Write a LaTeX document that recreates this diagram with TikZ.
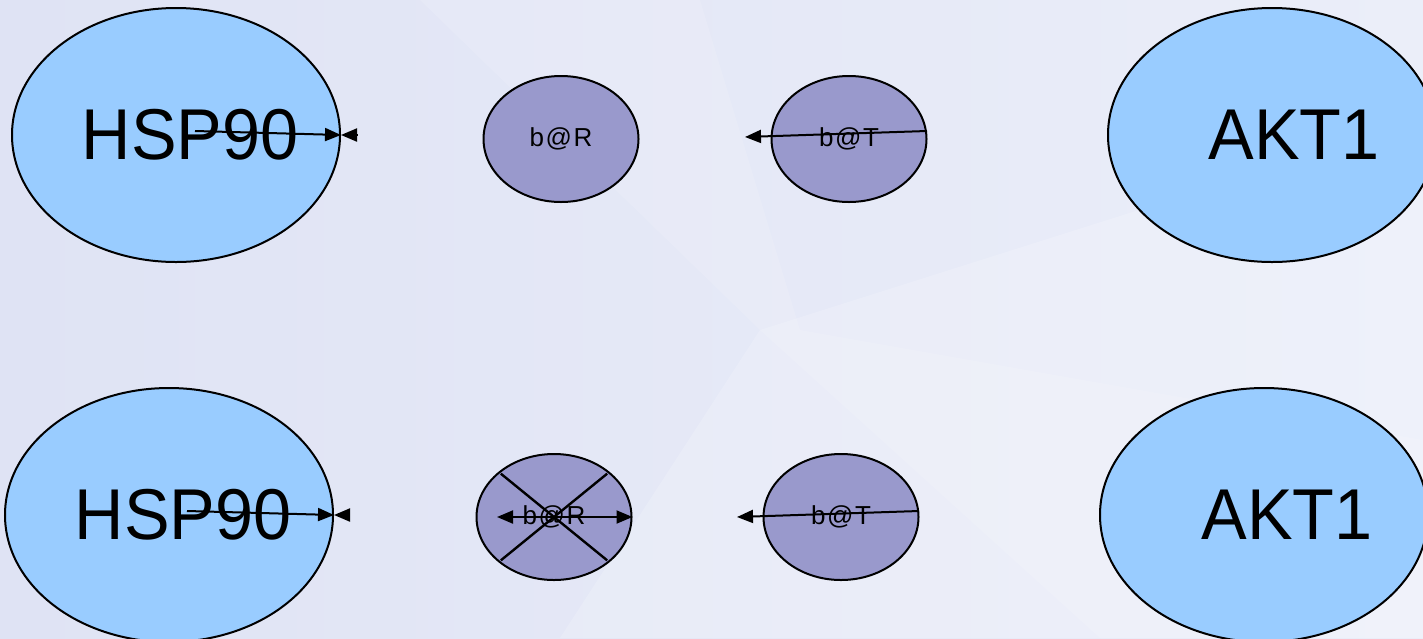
\documentclass[tikz,border=0pt]{standalone}
\usepackage{fontspec}
\setmainfont{Liberation Sans}
\usetikzlibrary{shapes.geometric,arrows.meta}
\definecolor{bgA}{HTML}{DFE3F4}
\definecolor{bgB}{HTML}{EBEEF9}
\definecolor{bigfill}{HTML}{99CCFF}
\definecolor{smallfill}{HTML}{9999CC}
\tikzset{
  bigell/.style={ellipse, draw=black, line width=2pt, fill=bigfill, minimum width=328pt, minimum height=254pt, inner sep=0pt},
  smallell/.style={ellipse, draw=black, line width=2pt, fill=smallfill, minimum width=155pt, minimum height=126pt, inner sep=0pt},
  bigtext/.style={font=\fontsize{72}{72}\selectfont},
  smalltext/.style={font=\fontsize{26}{26}\selectfont\addfontfeatures{LetterSpace=6}},
  arr/.style={line width=2pt, -{Triangle[length=16pt,width=13pt]}},
  darr/.style={line width=2pt, {Triangle[length=16pt,width=13pt]}-{Triangle[length=16pt,width=13pt]}},
  crossline/.style={line width=2.4pt, shorten >=3pt, shorten <=3pt}
}
\begin{document}
\begin{tikzpicture}[x=1pt,y=-1pt]
\useasboundingbox (0,0) rectangle (1423,638);
\shade[left color=bgA, right color=bgB] (0,0) rectangle (1423,638);
\fill[white, opacity=0.18] (560,638) -- (760,330) -- (1423,120) -- (1423,638) -- cycle;
\fill[white, opacity=0.12] (420,0) -- (700,0) -- (800,330) -- (1423,440) -- (1423,638) -- (1100,638) -- (760,330) -- cycle;

% top row
\node[bigell, label={[bigtext, xshift=14pt, xscale=0.95]center:HSP90}] (hsp1) at (176,135) {};
\node[smallell, smalltext] (br1) at (561,139) {b@R};
\node[smallell, smalltext] (bt1) at (849,139) {b@T};
\node[bigell, label={[bigtext, xshift=22pt, xscale=0.95]center:AKT1}] (akt1) at (1272,135) {};

\coordinate (h1s) at (195,131);
\coordinate (h1b) at (357,135);
\coordinate (t1s) at (927,131);
\coordinate (t1e) at (745,137);
\draw[arr] (h1s) -- (hsp1.east);
\draw[arr] (h1b) -- (hsp1.east);
\draw[arr] (t1s) -- (t1e);

% bottom row
\node[bigell, label={[bigtext, xshift=14pt, xscale=0.95]center:HSP90}] (hsp2) at (169,515) {};
\node[smallell, smalltext] (br2) at (554,517) {b@R};
\node[smallell, smalltext] (bt2) at (841,517) {b@T};
\node[bigell, label={[bigtext, xshift=23pt, xscale=0.95]center:AKT1}] (akt2) at (1264,515) {};

\coordinate (h2s) at (187,511);
\coordinate (h2b) at (349,515);
\coordinate (r2s) at (497,517);
\coordinate (t2s) at (919,511);
\coordinate (t2e) at (737,517);
\draw[arr] (h2s) -- (hsp2.east);
\draw[arr] (h2b) -- (hsp2.east);
\draw[darr] (r2s) -- (br2.east);
\draw[crossline] (br2.north west) -- (br2.south east);
\draw[crossline] (br2.north east) -- (br2.south west);
\draw[arr] (t2s) -- (t2e);
\end{tikzpicture}
\end{document}
